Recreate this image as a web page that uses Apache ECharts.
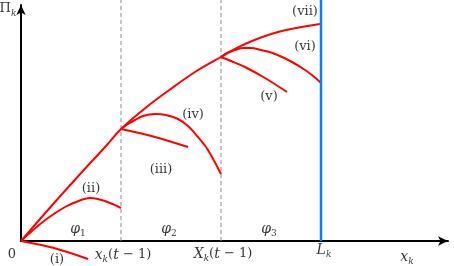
<!DOCTYPE html>
<html lang="en">
<head>
<meta charset="UTF-8">
<title>Profit paths</title>
<style>
  html, body { margin: 0; padding: 0; background: #fff; }
  #chart { width: 454px; height: 266px; }
</style>
</head>
<body>
<div id="chart"></div>
<script src="https://cdn.jsdelivr.net/npm/echarts@6/dist/echarts.min.js"></script>
<script>
// stage boundaries on the x axis: x_k(t-1), X_k(t-1), L_k
const boundaries = [1.0, 2.0];
const limitLk = 3.0;
const topY = 2.41;

// red curves
const curveMain = [[0, 0], [0.3, 0.345], [0.61, 0.69], [0.85, 0.95], [1, 1.12], [1.25, 1.335], [1.49, 1.515], [1.74, 1.69],
  [2, 1.84], [2.24, 1.97], [2.57, 2.09], [2.99, 2.17]];
const curveI = [[0, 0], [0.33, -0.07], [0.67, -0.18]];
const curveII = [[0, 0], [0.11, 0.10], [0.27, 0.23], [0.44, 0.34], [0.55, 0.39], [0.69, 0.43], [0.84, 0.40], [1, 0.33]];
const curveIII = [[1, 1.12], [1.14, 1.09], [1.34, 1.04], [1.67, 0.94]];
const curveIV = [[1, 1.12], [1.07, 1.17], [1.14, 1.21], [1.22, 1.25], [1.34, 1.27], [1.45, 1.26], [1.57, 1.22],
  [1.67, 1.15], [1.77, 1.04], [1.85, 0.94], [1.91, 0.84], [2, 0.67]];
const curveV = [[2, 1.84], [2.1, 1.80], [2.24, 1.74], [2.44, 1.63], [2.66, 1.49]];
const curveVI = [[2, 1.84], [2.07, 1.885], [2.14, 1.91], [2.22, 1.93], [2.30, 1.93], [2.40, 1.91], [2.50, 1.885],
  [2.61, 1.84], [2.71, 1.79], [2.81, 1.73], [2.91, 1.66], [3, 1.58]];

// text labels and where they sit (data coordinates)
const labelTexts = [
  '{r|0}',
  '{r|(i)}',
  '{i|x}{s|k}{r|(}{i|t}{r| − 1)}',
  '{i|X}{s|k}{r|(}{i|t}{r| − 1)}',
  '{i|L}{s|k}',
  '{i|x}{s|k}',
  '{i|φ}{n|1}',
  '{i|φ}{n|2}',
  '{i|φ}{n|3}',
  '{r|(ii)}',
  '{r|(iii)}',
  '{r|(iv)}',
  '{r|(v)}',
  '{r|(vi)}',
  '{r|(vii)}',
  '{r|Π}{s|k}'
];
const labelAnchors = [
  [-0.09, -0.14], [0.36, -0.19], [1.02, -0.14], [2.02, -0.13], [3.03, -0.09], [3.86, -0.16],
  [0.57, 0.12], [1.48, 0.12], [2.48, 0.12],
  [0.70, 0.52], [1.40, 0.71], [1.72, 1.26], [2.48, 1.44], [2.84, 1.94], [2.84, 2.29],
  [-0.13, 2.32]
];

const serif = 'DejaVu Serif';
const rich = {
  r: { fontFamily: serif, fontSize: 13, color: '#000', lineHeight: 18 },
  i: { fontFamily: serif, fontSize: 14, fontStyle: 'italic', color: '#000', lineHeight: 18 },
  s: { fontFamily: serif, fontSize: 9, fontStyle: 'italic', color: '#000', lineHeight: 10, verticalAlign: 'bottom' },
  n: { fontFamily: serif, fontSize: 9, color: '#000', lineHeight: 10, verticalAlign: 'bottom' }
};

function redLine(data) {
  return {
    type: 'line', data: data, smooth: 0.35, symbol: 'none', clip: false,
    lineStyle: { color: '#ff0000', width: 2 }, z: 3
  };
}

const series = [];
boundaries.forEach(b => {
  series.push({
    type: 'line', data: [[b, 0], [b, topY]], symbol: 'none', clip: false,
    lineStyle: { color: '#8c8c8c', width: 1, type: [4, 3] }, z: 2
  });
});
[curveMain, curveI, curveII, curveIII, curveIV, curveV, curveVI].forEach(c => series.push(redLine(c)));
series.push({
  type: 'line', data: [[limitLk, 0], [limitLk, topY]], symbol: 'none', clip: false,
  lineStyle: { color: '#0a7dff', width: 2.5 }, z: 4
});
series.push({
  type: 'scatter', clip: false, symbolSize: 1, itemStyle: { color: 'rgba(0,0,0,0)' },
  data: labelAnchors.map((p, k) => ({
    value: p,
    label: {
      show: true, position: 'inside', formatter: labelTexts[k],
      fontFamily: serif, fontSize: 13, color: '#000', rich: rich
    }
  })),
  z: 5
});

const chart = echarts.init(document.getElementById('chart'));
chart.setOption({
  animation: false,
  textStyle: { fontFamily: serif },
  grid: { left: 21, right: 6, top: 5, bottom: 25, outerBoundsMode: 'none' },
  xAxis: {
    type: 'value', min: 0, max: 4.27,
    axisLine: { lineStyle: { color: '#000', width: 2 }, symbol: ['none', 'arrow'], symbolSize: [7, 10] },
    axisTick: { show: false }, axisLabel: { show: false }, splitLine: { show: false }
  },
  yAxis: {
    type: 'value', min: 0, max: 2.36,
    axisLine: { show: true, lineStyle: { color: '#000', width: 2 }, symbol: ['none', 'arrow'], symbolSize: [7, 10] },
    axisTick: { show: false }, axisLabel: { show: false }, splitLine: { show: false }
  },
  series: series
});
</script>
</body>
</html>
